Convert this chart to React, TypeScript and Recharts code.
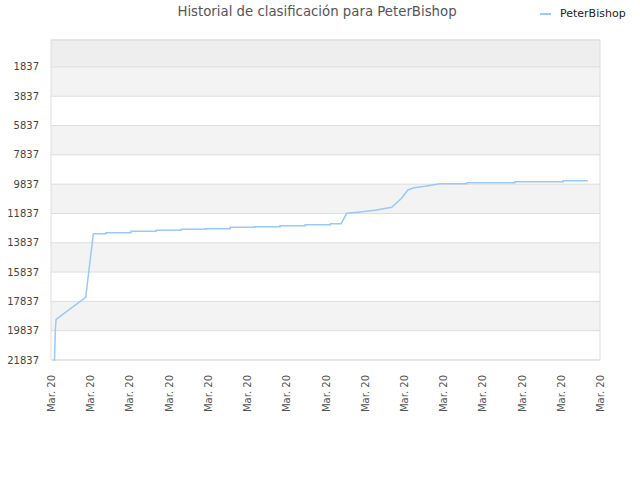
import React from "react";
import { LineChart, XAxis, YAxis, CartesianGrid, Line, ReferenceArea } from "recharts";

// position along the time axis (one unit per "Mar. 20" tick)
const time = [
  0.06, 0.09, 0.11, 0.13, 0.885, 1.08,
  1.4, 1.4, 2.04, 2.04, 2.68, 2.68, 3.32, 3.32, 3.95, 3.95,
  4.57, 4.57, 5.2, 5.2, 5.84, 5.84, 6.48, 6.48, 7.12, 7.12,
  7.4, 7.54, 7.88, 8.26, 8.69, 8.94, 9.1, 9.26, 9.54, 9.92,
  10.61, 10.61, 11.83, 11.83, 13.06, 13.06, 13.69,
];
// ranking position
const rank = [
  21837, 21837, 19790, 19073, 17558, 13218,
  13218, 13150, 13150, 13054, 13054, 12986, 12986, 12918, 12918, 12877,
  12877, 12781, 12781, 12740, 12740, 12672, 12672, 12604, 12604, 12536,
  12536, 11826, 11737, 11621, 11417, 10802, 10236, 10079, 9984, 9806,
  9806, 9738, 9738, 9670, 9670, 9601, 9601,
];

const yTicks = [1837, 3837, 5837, 7837, 9837, 11837, 13837, 15837, 17837, 19837, 21837];
const xTicks = [0, 1, 2, 3, 4, 5, 6, 7, 8, 9, 10, 11, 12, 13, 14];
const xLabel = "Mar. 20";

const data = time.map((t, i) => ({ t, PeterBishop: rank[i] }));

const font = "'DejaVu Sans', Verdana, sans-serif";
const lineColor = "#99c9f4";

const bandFill = [
  "#eeeeee", "#f3f3f3", "#ffffff", "#f3f3f3", "#ffffff", "#f3f3f3",
  "#ffffff", "#f3f3f3", "#ffffff", "#f3f3f3", "#ffffff", "#ffffff",
];

function XTick(props: any) {
  const { x, y } = props;
  return (
    <g transform={`translate(${x},${y + 13})`}>
      <text transform="rotate(-90)" textAnchor="end" dy={4} fontSize={10} fill="#555" fontFamily={font}>
        {xLabel}
      </text>
    </g>
  );
}

export default function App() {
  return (
    <div style={{ position: "absolute", left: 0, top: 0, width: 640, height: 480, background: "#fff" }}>
      <div
        style={{
          position: "absolute", top: 4, left: 0, width: 634, textAlign: "center",
          fontFamily: font, fontSize: 13.3, color: "#555",
        }}
      >
        Historial de clasificación para PeterBishop
      </div>
      <div
        style={{
          position: "absolute", top: 7, left: 540, display: "flex", alignItems: "center",
          fontFamily: font, fontSize: 11, color: "#222",
        }}
      >
        <span style={{ display: "inline-block", width: 11, height: 2, background: lineColor, marginRight: 9 }} />
        PeterBishop
      </div>
      <LineChart width={640} height={480} data={data} margin={{ top: 40, right: 40, left: 0, bottom: 60 }}>
        <CartesianGrid vertical={false} stroke="#dddddd" horizontalFill={bandFill} />
        <XAxis
          dataKey="t"
          type="number"
          domain={[0, 14]}
          ticks={xTicks}
          interval={0}
          height={60}
          axisLine={false}
          tickLine={false}
          tickSize={0}
          tick={<XTick />}
        />
        <YAxis
          reversed
          domain={[0, 21837]}
          ticks={yTicks}
          interval={0}
          width={51}
          axisLine={false}
          tickLine={false}
          tickSize={0}
          tickMargin={12}
          tick={{ fontSize: 10, fill: "#444", fontFamily: font }}
        />
        <ReferenceArea x1={0} x2={14} y1={0} y2={21837} fill="none" stroke="#dddddd" strokeWidth={1} />
        <Line
          type="linear"
          dataKey="PeterBishop"
          stroke={lineColor}
          strokeWidth={1.5}
          dot={false}
          isAnimationActive={false}
        />
      </LineChart>
    </div>
  );
}
